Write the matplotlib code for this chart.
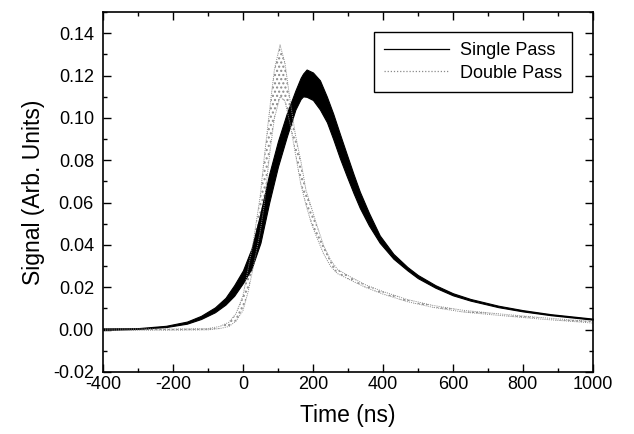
import matplotlib
matplotlib.use("Agg")
import matplotlib.pyplot as plt
from matplotlib.ticker import MultipleLocator, FormatStrFormatter

plt.rcParams["font.family"] = ["Liberation Sans", "DejaVu Sans"]
plt.rcParams["axes.unicode_minus"] = False

# single pass: time (ns) with upper / lower edge of the jittery band
t_single = [-400, -300, -220, -160, -120, -80, -50, -25, 0, 25, 50, 75, 100, 125,
            150, 165, 172, 182, 200, 220, 240, 258, 277, 296, 316, 334, 360, 391,
            430, 470, 500, 550, 600, 650, 730, 800, 880, 1000]
single_hi = [0.0006, 0.0007, 0.0018, 0.0038, 0.0065, 0.0105, 0.0150, 0.0210, 0.0280,
             0.0385, 0.0550, 0.0735, 0.0890, 0.1020, 0.1130, 0.1190, 0.1210, 0.1229,
             0.1215, 0.1178, 0.1100, 0.1020, 0.0925, 0.0832, 0.0735, 0.0652, 0.0552,
             0.0445, 0.0358, 0.0296, 0.0258, 0.0210, 0.0172, 0.0145, 0.0113, 0.0092,
             0.0073, 0.0052]
single_lo = [-0.0002, 0.0003, 0.0012, 0.0028, 0.0050, 0.0082, 0.0118, 0.0160, 0.0220,
             0.0290, 0.0410, 0.0600, 0.0770, 0.0910, 0.1040, 0.1090, 0.1102, 0.1100,
             0.1085, 0.1040, 0.0980, 0.0900, 0.0810, 0.0728, 0.0645, 0.0575, 0.0492,
             0.0410, 0.0335, 0.0280, 0.0243, 0.0198, 0.0162, 0.0137, 0.0106, 0.0086,
             0.0068, 0.0047]

# double pass: noisy grey trace, upper / lower edge of the scatter
t_double = [-400, -200, -100, -66, -40, -20, 0, 15, 30, 49, 60, 77, 90, 106, 120,
            135, 150, 165, 180, 196, 210, 230, 250, 270, 306, 350, 400, 470, 544,
            630, 734, 850, 970, 1000]
double_hi = [0.0003, 0.0003, 0.0005, 0.0015, 0.0035, 0.0075, 0.0160, 0.0290, 0.0420,
             0.0627, 0.0800, 0.1050, 0.1230, 0.1345, 0.1260, 0.1080, 0.0920, 0.0800,
             0.0660, 0.0575, 0.0500, 0.0400, 0.0330, 0.0285, 0.0250, 0.0212, 0.0180,
             0.0142, 0.0114, 0.0091, 0.0074, 0.0057, 0.0042, 0.0040]
double_lo = [-0.0003, -0.0003, -0.0001, 0.0005, 0.0015, 0.0040, 0.0090, 0.0180, 0.0300,
             0.0460, 0.0580, 0.0840, 0.1000, 0.1100, 0.1080, 0.0970, 0.0830, 0.0690,
             0.0590, 0.0500, 0.0440, 0.0360, 0.0300, 0.0265, 0.0235, 0.0200, 0.0168,
             0.0132, 0.0105, 0.0083, 0.0067, 0.0050, 0.0035, 0.0031]

fig = plt.figure(figsize=(6.34, 4.34), dpi=100)
ax = fig.add_axes([0.1625, 0.143, 0.7725, 0.829])

grey = "#8a8a8a"
# double pass: stippled grey band
ax.fill_between(t_double, double_lo, double_hi, facecolor="none", edgecolor=grey,
                hatch="....", linewidth=0)
ax.plot(t_double, double_hi, color=grey, lw=0.7, ls=(0, (1, 1.2)))
ax.plot(t_double, double_lo, color=grey, lw=0.7, ls=(0, (1, 1.2)))

# single pass: solid black band
ax.fill_between(t_single, single_lo, single_hi, facecolor="black", edgecolor="black",
                linewidth=0.8)

ax.set_xlim(-400, 1000)
ax.set_ylim(-0.02, 0.15)
ax.xaxis.set_major_locator(MultipleLocator(200))
ax.xaxis.set_minor_locator(MultipleLocator(100))
ax.yaxis.set_major_locator(MultipleLocator(0.02))
ax.yaxis.set_minor_locator(MultipleLocator(0.01))
ax.yaxis.set_major_formatter(FormatStrFormatter("%.2f"))
ax.tick_params(which="both", direction="in", top=True, right=True, labelsize=13)
ax.tick_params(which="major", length=6, width=1)
ax.tick_params(which="minor", length=3, width=1)
ax.tick_params(axis="x", pad=3)
ax.tick_params(axis="y", pad=6.5)
for s in ax.spines.values():
    s.set_linewidth(1.2)

ax.set_xlabel("Time (ns)", fontsize=16.5, labelpad=8)
ax.set_ylabel("Signal (Arb. Units)", fontsize=16.5, labelpad=6)

h1, = ax.plot([], [], color="black", lw=0.9, label="Single Pass")
h2, = ax.plot([], [], color=grey, lw=0.9, ls=(0, (1, 1.5)), label="Double Pass")
leg = ax.legend(handles=[h1, h2], loc="upper right", bbox_to_anchor=(0.957, 0.944),
                borderaxespad=0, fontsize=13, fancybox=False, edgecolor="black",
                framealpha=1, handlelength=3.6, handletextpad=0.6,
                borderpad=0.55, labelspacing=0.3)
leg.get_frame().set_linewidth(1.0)

fig.savefig("out.png", dpi=100)
